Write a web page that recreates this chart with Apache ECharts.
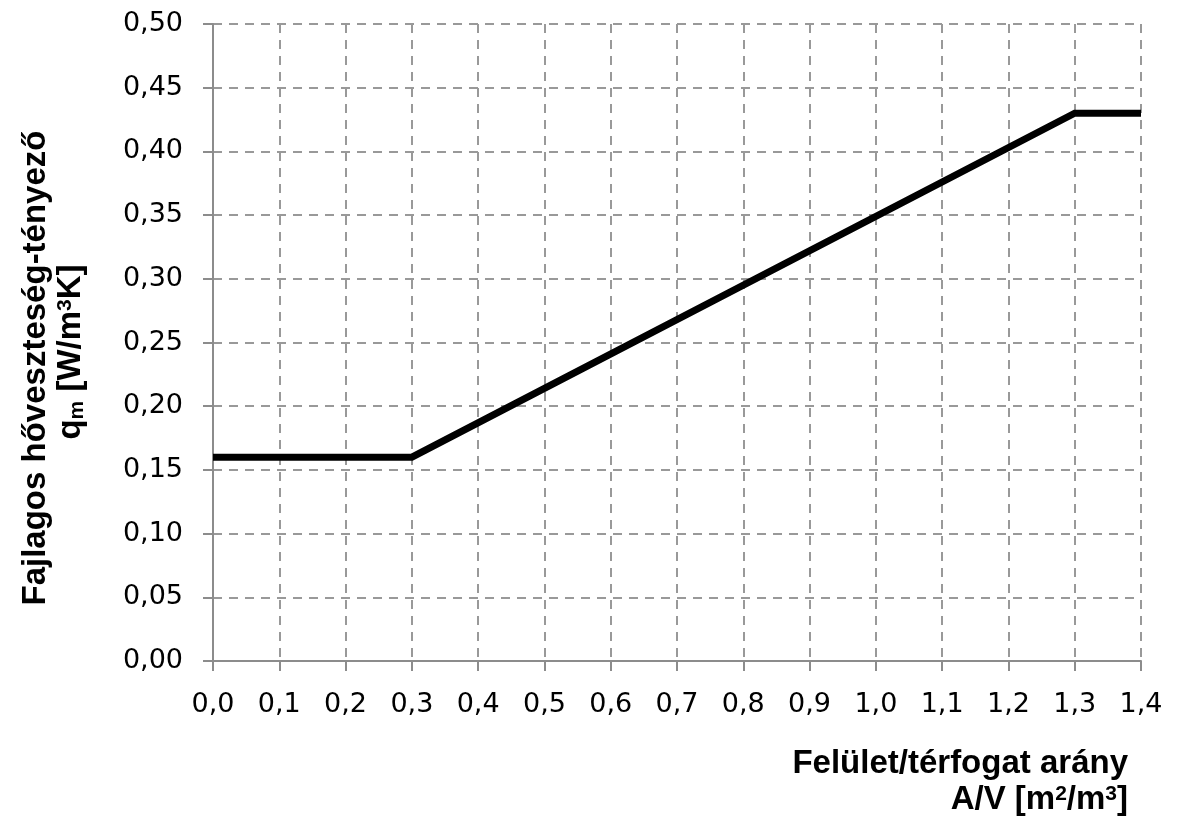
<!DOCTYPE html>
<html><head><meta charset="utf-8">
<script src="https://cdn.jsdelivr.net/npm/echarts@6/dist/echarts.min.js"></script>
<style>html,body{margin:0;padding:0;background:#fff}#c{width:1179px;height:839px}</style>
</head><body><div id="c"></div>
<script>
var xValues = [0.0, 0.3, 1.3, 1.4];
var qmValues = [0.16, 0.16, 0.43, 0.43];
var xAxisRange = [0, 1.4, 0.1];
var yAxisRange = [0, 0.5, 0.05];
var xTitle = ['Felület/térfogat arány', 'A/V [m{sup|2}/m{sup|3}]'];
var yTitle = ['Fajlagos hőveszteség-tényező', 'q{sub|m} [W/m{sup|3}K]'];

var seriesData = xValues.map(function (x, i) { return [x, qmValues[i]]; });
var gridColor = '#999999';
var axisColor = '#8c8c8c';
var titleFont = { fontFamily: 'Liberation Sans', fontWeight: 'bold', fontSize: 33, fill: '#000' };
var rich = {
  sup: { fontFamily: 'Liberation Sans', fontWeight: 'bold', fontSize: 21, verticalAlign: 'top', lineHeight: 17 },
  sub: { fontFamily: 'Liberation Sans', fontWeight: 'bold', fontSize: 21, verticalAlign: 'bottom', lineHeight: 14 }
};

var chart = echarts.init(document.getElementById('c'), null, { renderer: 'canvas' });
chart.setOption({
  animation: false,
  backgroundColor: '#ffffff',
  grid: { left: 213, right: 38, top: 24, bottom: 178, containLabel: false },
  xAxis: {
    type: 'value', min: xAxisRange[0], max: xAxisRange[1], interval: xAxisRange[2],
    axisLine: { lineStyle: { color: axisColor, width: 2 } },
    axisTick: { show: true, length: 10, lineStyle: { color: axisColor, width: 2 } },
    axisLabel: { color: '#000', fontFamily: 'DejaVu Sans', fontSize: 27, margin: 30,
      formatter: function (v) { return v.toFixed(1).replace('.', ','); } },
    splitLine: { show: true, lineStyle: { color: gridColor, width: 2, type: [9, 7] } }
  },
  yAxis: {
    type: 'value', min: yAxisRange[0], max: yAxisRange[1], interval: yAxisRange[2],
    axisLine: { show: true, lineStyle: { color: axisColor, width: 2 } },
    axisTick: { show: true, length: 10, lineStyle: { color: axisColor, width: 2 } },
    axisLabel: { color: '#000', fontFamily: 'DejaVu Sans', fontSize: 27, margin: 30,
      formatter: function (v) { return v.toFixed(2).replace('.', ','); } },
    splitLine: { show: true, lineStyle: { color: gridColor, width: 2, type: [9, 7] } }
  },
  series: [{
    type: 'line', data: seriesData, showSymbol: false, symbol: 'none',
    lineStyle: { color: '#000', width: 7, join: 'miter' }
  }],
  graphic: [
    { type: 'text', x: 1128, y: 764, style: Object.assign({ text: xTitle[0], align: 'right', verticalAlign: 'middle', rich: rich }, titleFont) },
    { type: 'text', x: 1128, y: 800, style: Object.assign({ text: xTitle[1], align: 'right', verticalAlign: 'middle', rich: rich }, titleFont) },
    { type: 'text', x: 36, y: 368, rotation: Math.PI / 2, style: Object.assign({ text: yTitle[0], align: 'center', verticalAlign: 'middle', rich: rich }, titleFont) },
    { type: 'text', x: 71, y: 352, rotation: Math.PI / 2, style: Object.assign({ text: yTitle[1], align: 'center', verticalAlign: 'middle', rich: rich }, titleFont) }
  ]
});
</script></body></html>
